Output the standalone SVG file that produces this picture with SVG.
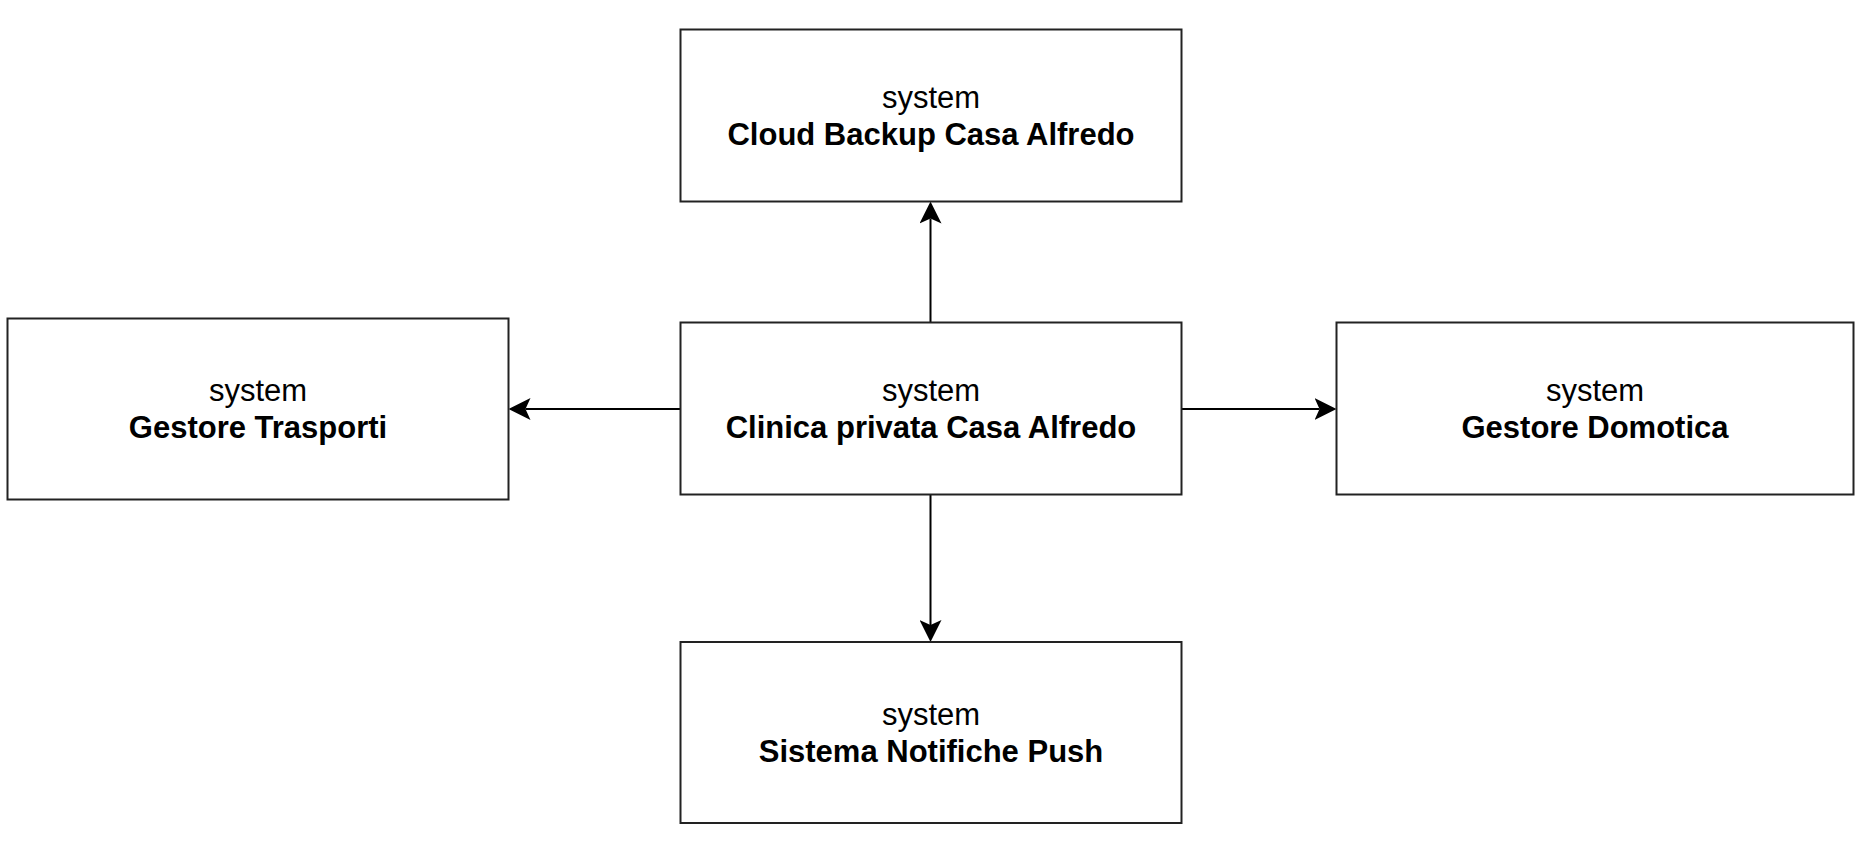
<svg xmlns="http://www.w3.org/2000/svg" width="1862" height="859" viewBox="0 0 1862 859">
  <style>
    .box { fill: #ffffff; stroke: #222222; stroke-width: 2; }
    .t1 { font-family: "Liberation Sans", Arial, sans-serif; font-size: 31px; fill: #000; text-anchor: middle; }
    .t2 { font-family: "Liberation Sans", Arial, sans-serif; font-size: 31px; font-weight: bold; fill: #000; text-anchor: middle; }
    .edge { fill: none; stroke: #000; stroke-width: 2; }
  </style>
  <defs>
    <marker id="arrow" viewBox="0 0 22 22" refX="5" refY="11" markerWidth="22" markerHeight="22" markerUnits="userSpaceOnUse" orient="auto">
      <path d="M0,0 L22,11 L0,22 L5,11 Z" fill="#000"/>
    </marker>
  </defs>
  <rect width="1862" height="859" fill="#ffffff"/>
  <g id="connectors">
    <path class="edge" d="M930.5,322.5 L930.5,218.5" marker-end="url(#arrow)"/>
    <path class="edge" d="M680.5,409 L525.5,409" marker-end="url(#arrow)"/>
    <path class="edge" d="M1181.5,409 L1319.5,409" marker-end="url(#arrow)"/>
    <path class="edge" d="M930.5,494.5 L930.5,625" marker-end="url(#arrow)"/>
  </g>
  <g id="cloud-backup">
    <rect class="box" x="680.5" y="29.5" width="501" height="172"/>
    <text class="t1" x="931" y="108">system</text>
    <text class="t2" x="931" y="145">Cloud Backup Casa Alfredo</text>
  </g>
  <g id="clinica">
    <rect class="box" x="680.5" y="322.5" width="501" height="172"/>
    <text class="t1" x="931" y="401">system</text>
    <text class="t2" x="931" y="438">Clinica privata Casa Alfredo</text>
  </g>
  <g id="gestore-trasporti">
    <rect class="box" x="7.5" y="318.5" width="501" height="181"/>
    <text class="t1" x="258" y="401">system</text>
    <text class="t2" x="258" y="438">Gestore Trasporti</text>
  </g>
  <g id="gestore-domotica">
    <rect class="box" x="1336.5" y="322.5" width="517" height="172"/>
    <text class="t1" x="1595" y="401">system</text>
    <text class="t2" x="1595" y="438">Gestore Domotica</text>
  </g>
  <g id="notifiche-push">
    <rect class="box" x="680.5" y="642" width="501" height="181"/>
    <text class="t1" x="931" y="725">system</text>
    <text class="t2" x="931" y="762">Sistema Notifiche Push</text>
  </g>
</svg>
